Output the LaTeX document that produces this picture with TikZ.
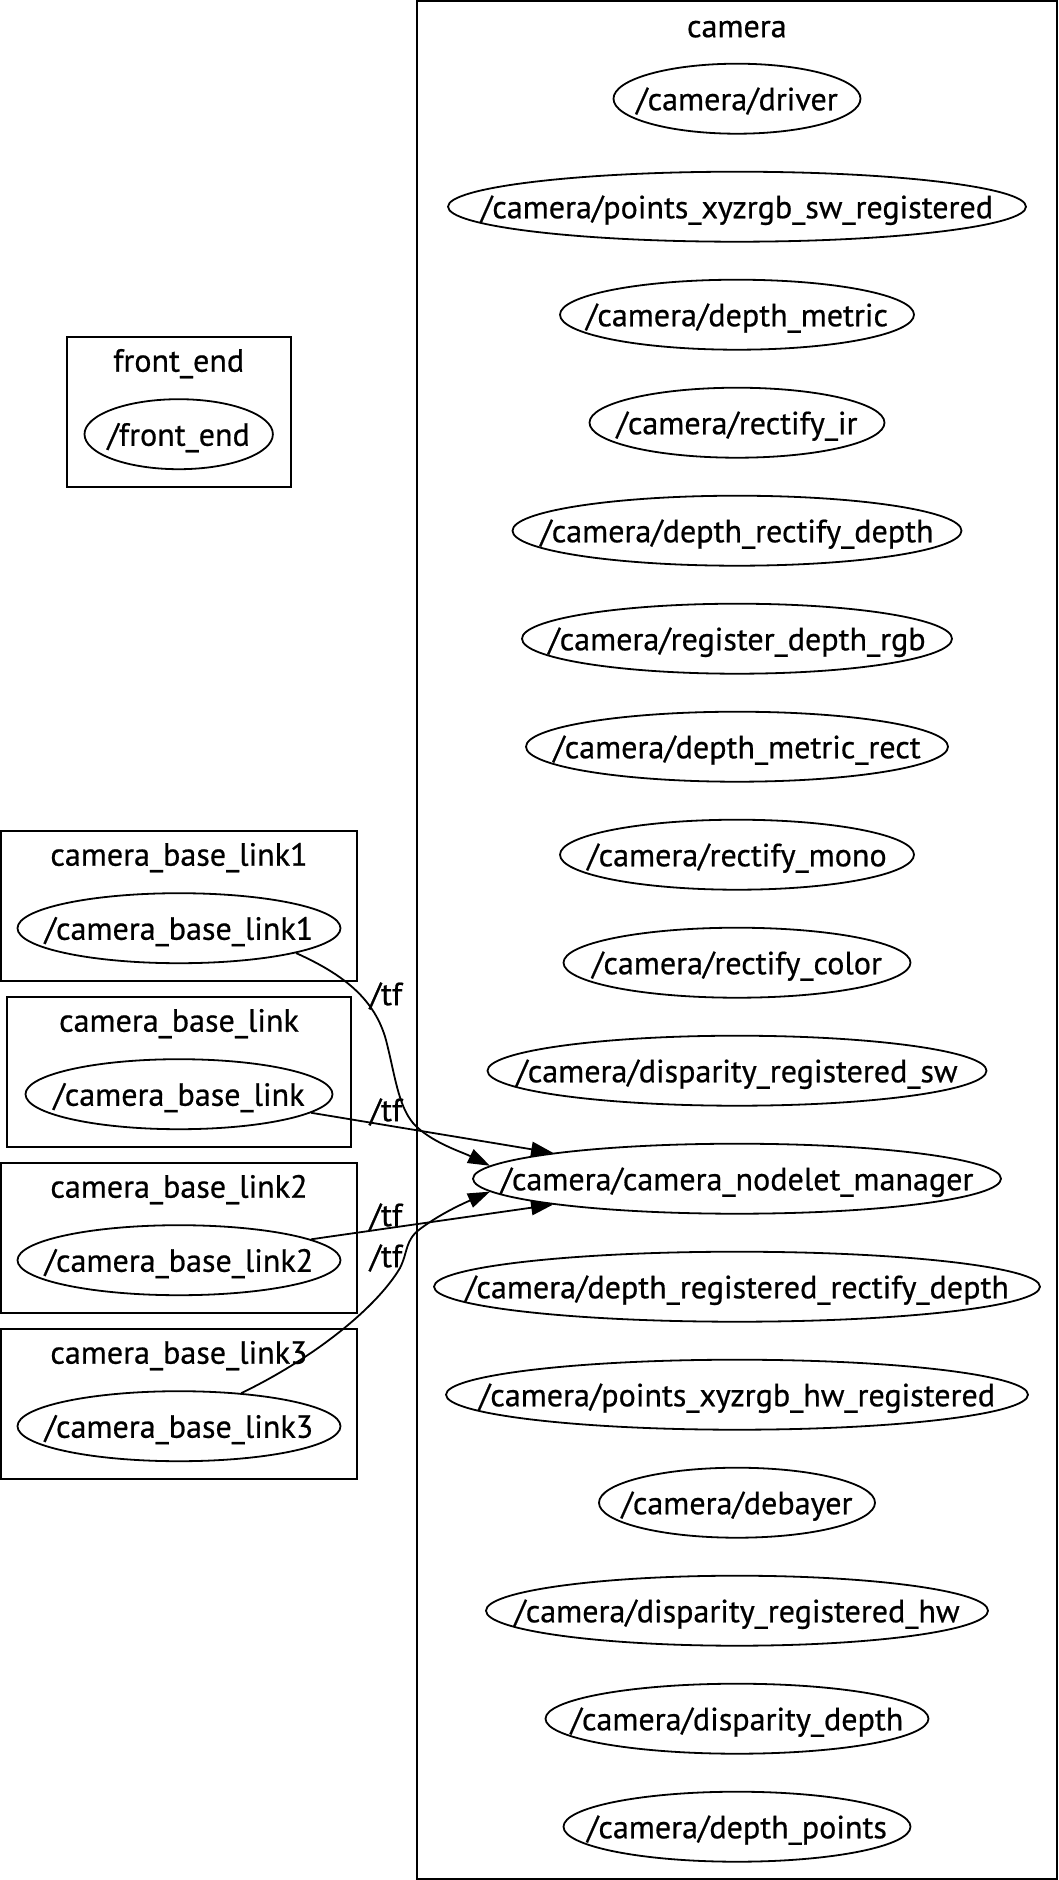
\documentclass[tikz,border=0pt]{standalone}
\usepackage{fontspec}
\setmainfont[FakeBold=0.6]{PT Sans}
\usetikzlibrary{shapes.geometric,arrows.meta}
\newlength\refw
\newcommand\zw[1]{\makebox[0pt][c]{#1}}
\begin{document}
\settowidth\refw{\fontsize{20pt}{24pt}\selectfont /camera/points\_xyzrgb\_sw\_registered}%
\pgfmathsetmacro\fsz{20*512/\refw}%
\pgfmathsetmacro\txth{0.72*\fsz}%
\begin{tikzpicture}[x=1pt,y=-1pt]
\tikzset{
  every node/.style={font=\fontsize{\fsz pt}{\fsz pt}\selectfont},
  lw/.style={line width=1.8pt},
  ell/.style={draw, ellipse, lw, inner sep=0pt, minimum height=70pt, text height=\txth pt, text depth=0pt},
  clus/.style={draw, rectangle, lw, inner sep=0pt, minimum height=150pt},
  clab/.style={anchor=base},
  tfedge/.style={lw, -{Triangle[length=22pt,width=15pt]}},
}
\useasboundingbox (0,0) rectangle (1058,1880);

% camera cluster
\node[clus, minimum width=640.3pt, minimum height=1877.8pt] (camclus) at (736.85,940.1) {};
\node[clab] (camlab) at (736.85,37.2) {camera};
\node[ell, minimum width=247pt] (driver) at (737,98.7) {\zw{/camera/driver}};
\node[ell, minimum width=578pt] (ptsw) at (737,206.7) {\zw{/camera/points\_xyzrgb\_sw\_registered}};
\node[ell, minimum width=354pt] (dmetric) at (737,314.7) {\zw{/camera/depth\_metric}};
\node[ell, minimum width=295pt] (rectir) at (737,422.7) {\zw{/camera/rectify\_ir}};
\node[ell, minimum width=449pt] (drd) at (737,530.7) {\zw{/camera/depth\_rectify\_depth}};
\node[ell, minimum width=430pt] (regdr) at (737,638.7) {\zw{/camera/register\_depth\_rgb}};
\node[ell, minimum width=422pt] (dmr) at (737,746.7) {\zw{/camera/depth\_metric\_rect}};
\node[ell, minimum width=354pt] (rmono) at (737,854.7) {\zw{/camera/rectify\_mono}};
\node[ell, minimum width=347pt] (rcolor) at (737,962.7) {\zw{/camera/rectify\_color}};
\node[ell, minimum width=499pt] (dispsw) at (737,1070.7) {\zw{/camera/disparity\_registered\_sw}};
\node[ell, minimum width=528pt] (mgr) at (737,1178.7) {\zw{/camera/camera\_nodelet\_manager}};
\node[ell, minimum width=606pt] (drrd) at (737,1286.7) {\zw{/camera/depth\_registered\_rectify\_depth}};
\node[ell, minimum width=582pt] (pthw) at (737,1394.7) {\zw{/camera/points\_xyzrgb\_hw\_registered}};
\node[ell, minimum width=276pt] (debayer) at (737,1502.7) {\zw{/camera/debayer}};
\node[ell, minimum width=502pt] (disphw) at (737,1610.7) {\zw{/camera/disparity\_registered\_hw}};
\node[ell, minimum width=383pt] (dispd) at (737,1718.7) {\zw{/camera/disparity\_depth}};
\node[ell, minimum width=347pt] (dpts) at (737,1826.7) {\zw{/camera/depth\_points}};

% front_end cluster
\node[clus, minimum width=224pt] (feclus) at (178.7,411.7) {};
\node[clab] (felab) at (178.7,371.7) {front\_end};
\node[ell, minimum width=188.4pt] (fe) at (178.7,434.2) {\zw{/front\_end}};

% camera_base_link clusters
\node[clus, minimum width=356pt] (b1clus) at (179,905.7) {};
\node[clab] (b1lab) at (179,865.7) {camera\_base\_link1};
\node[ell, minimum width=323pt] (b1) at (179,928.2) {\zw{/camera\_base\_link1}};

\node[clus, minimum width=344pt] (b0clus) at (179,1071.7) {};
\node[clab] (b0lab) at (179,1031.7) {camera\_base\_link};
\node[ell, minimum width=307pt] (b0) at (179,1094.2) {\zw{/camera\_base\_link}};

\node[clus, minimum width=356pt] (b2clus) at (179,1237.7) {};
\node[clab] (b2lab) at (179,1197.7) {camera\_base\_link2};
\node[ell, minimum width=323pt] (b2) at (179,1260.2) {\zw{/camera\_base\_link2}};

\node[clus, minimum width=356pt] (b3clus) at (179,1403.7) {};
\node[clab] (b3lab) at (179,1363.7) {camera\_base\_link3};
\node[ell, minimum width=323pt] (b3) at (179,1426.2) {\zw{/camera\_base\_link3}};

% edges
\draw[tfedge] (b1.-12) .. controls (345,975) and (375,1000) .. (386,1040)
  .. controls (395,1075) and (398,1105) .. (413,1123)
  .. controls (430,1142) and (462,1152) .. (mgr.177);
\draw[tfedge] (b0.-8) -- (mgr.172);
\draw[tfedge] (b2.9) -- (mgr.188);
\draw[tfedge] (b3.28) .. controls (310,1360) and (375,1310) .. (400,1268)
  .. controls (408,1252) and (405,1240) .. (420,1229)
  .. controls (440,1214) and (462,1204) .. (mgr.183);

% edge labels
\node (tf1) at (386,996) {/tf};
\node (tf2) at (386,1112) {/tf};
\node (tf3) at (386,1217) {/tf};
\node (tf4) at (386,1258) {/tf};
\end{tikzpicture}
\end{document}
